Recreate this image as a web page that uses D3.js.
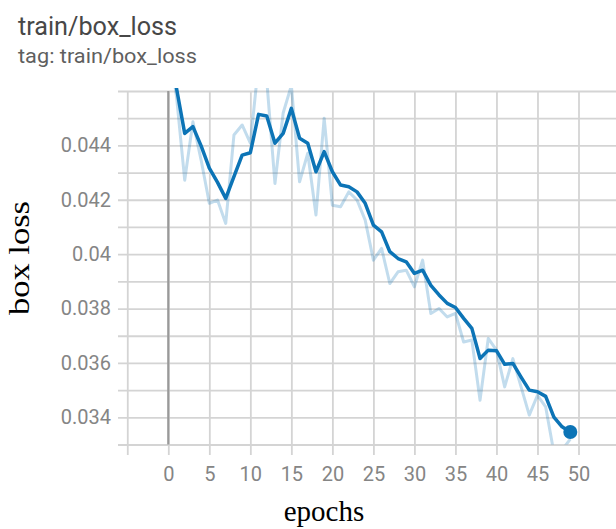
<!DOCTYPE html>
<html>
<head>
<meta charset="utf-8">
<script src="https://cdn.jsdelivr.net/npm/d3@7"></script>
<style>
  html, body { margin: 0; padding: 0; background: #fff; }
  svg { display: block; }
</style>
</head>
<body>
<svg id="chart" width="616" height="529"></svg>
<script>
// ---- data ----
const epochs = [0,1,2,3,4,5,6,7,8,9,10,11,12,13,14,15,16,17,18,19,20,21,22,23,24,25,26,27,28,29,30,31,32,33,34,35,36,37,38,39,40,41,42,43,44,45,46,47,48,49];
const smoothedLoss = [0.0478,0.0461,0.04444,0.04469,0.04398,0.04316,0.04264,0.04205,0.04285,0.04364,
  0.04373,0.04514,0.04508,0.04408,0.04444,0.04536,0.04426,0.04408,0.04303,0.04377,
  0.04303,0.04254,0.04248,0.04229,0.04187,0.04107,0.04082,0.04009,0.03984,0.03972,
  0.03929,0.03941,0.03885,0.03850,0.03819,0.03804,0.03764,0.03727,0.03616,0.03647,
  0.03645,0.03595,0.03598,0.03548,0.03500,0.03494,0.03477,0.03401,0.03365,0.03346];
const rawLoss = [0.0478,0.0458,0.04272,0.04487,0.04346,0.04187,0.04199,0.04113,0.04438,0.04475,
  0.04408,0.0470,0.0464,0.04260,0.04519,0.0462,0.04266,0.04371,0.04144,0.04500,
  0.04180,0.04174,0.04229,0.04199,0.04125,0.03978,0.04021,0.03892,0.03935,0.03941,
  0.03880,0.03978,0.03782,0.03800,0.03769,0.03782,0.03677,0.03684,0.03463,0.03690,
  0.03647,0.03512,0.03616,0.03512,0.03408,0.03481,0.03438,0.0327,0.0328,0.0332];
const xTickValues = [0,5,10,15,20,25,30,35,40,45,50];
const xTickLabels = ["0","5","10","15","20","25","30","35","40","45","50"];
const xGridValues = [-5,0,5,10,15,20,25,30,35,40,45,50];
const yTickValues = [0.034,0.036,0.038,0.040,0.042,0.044];
const yTickLabels = ["0.034","0.036","0.038","0.04","0.042","0.044"];
const yGridValues = [0.033,0.034,0.035,0.036,0.037,0.038,0.039,0.040,0.041,0.042,0.043,0.044,0.045,0.046];
const titleText = "train/box_loss";
const subtitleText = "tag: train/box_loss";
const yTitle = "box loss";
const xTitle = "epochs";

// ---- layout ----
const W = 616, H = 529;
const gridLeft = 118, gridRight = 616, gridTop = 91, gridBottom = 444.5, tickBottom = 455;
const lineColor = "#0c74b6";

const svg = d3.select("#chart");
svg.append("rect").attr("width", W).attr("height", H).attr("fill", "#fff");

const x = d3.scaleLinear().domain([0, 50]).range([168.3, 578.5]);
const y = d3.scaleLinear().domain([0.033, 0.046]).range([gridBottom, gridTop]);

// titles
svg.append("text").attr("x", 18).attr("y", 35)
  .attr("font-family", "Roboto, sans-serif").attr("font-size", 25)
  .attr("textLength", 159).attr("lengthAdjust", "spacingAndGlyphs")
  .attr("fill", "#474747").text(titleText);
svg.append("text").attr("x", 18).attr("y", 63)
  .attr("font-family", "Roboto, sans-serif").attr("font-size", 20.5)
  .attr("textLength", 179).attr("lengthAdjust", "spacingAndGlyphs")
  .attr("fill", "#5f5f5f").text(subtitleText);

// horizontal grid
const yGrid = svg.append("g").attr("transform", `translate(${gridLeft},0)`)
  .call(d3.axisLeft(y).tickValues(yGridValues).tickSize(-(gridRight - gridLeft)).tickFormat(""));
yGrid.select(".domain").remove();
yGrid.selectAll(".tick line").attr("stroke", "#d4d4d4").attr("stroke-width", 1.8);

// vertical grid
const xGrid = svg.append("g").attr("transform", `translate(0,${tickBottom})`)
  .call(d3.axisBottom(x).tickValues(xGridValues).tickSize(-(tickBottom - gridTop)).tickFormat(""));
xGrid.select(".domain").remove();
xGrid.selectAll(".tick line").attr("stroke", "#d4d4d4").attr("stroke-width", 1.8);

// zero line
svg.append("line").attr("x1", x(0)).attr("x2", x(0))
  .attr("y1", gridTop).attr("y2", gridBottom)
  .attr("stroke", "#999").attr("stroke-width", 2.2);

// y tick labels
const yAx = svg.append("g").attr("transform", `translate(${gridLeft},0)`)
  .call(d3.axisLeft(y).tickValues(yTickValues).tickSize(0).tickPadding(7)
    .tickFormat((d, i) => yTickLabels[i]));
yAx.select(".domain").remove();
yAx.selectAll("text").attr("font-family", "Roboto, sans-serif").attr("font-size", 20).attr("fill", "#858585");

// x tick labels
const xAx = svg.append("g").attr("transform", `translate(0,${tickBottom})`)
  .call(d3.axisBottom(x).tickValues(xTickValues).tickSize(0).tickPadding(12)
    .tickFormat((d, i) => xTickLabels[i]));
xAx.select(".domain").remove();
xAx.selectAll("text").attr("font-family", "Roboto, sans-serif").attr("font-size", 20).attr("fill", "#858585");

// clip
svg.append("defs").append("clipPath").attr("id", "plotclip")
  .append("rect").attr("x", gridLeft).attr("y", gridTop - 3)
  .attr("width", gridRight - gridLeft).attr("height", gridBottom - gridTop + 3);

const plot = svg.append("g").attr("clip-path", "url(#plotclip)");
const rawData = epochs.map((e, i) => [e, rawLoss[i]]);
const smData = epochs.map((e, i) => [e, smoothedLoss[i]]);
const line = d3.line().x(d => x(d[0])).y(d => y(d[1]));

plot.append("path").datum(rawData).attr("d", line)
  .attr("fill", "none").attr("stroke", lineColor).attr("stroke-opacity", 0.25)
  .attr("stroke-width", 3).attr("stroke-linejoin", "round");
plot.append("path").datum(smData).attr("d", line)
  .attr("fill", "none").attr("stroke", lineColor)
  .attr("stroke-width", 3.5).attr("stroke-linejoin", "round");

const last = smData[smData.length - 1];
svg.append("circle").attr("cx", x(last[0])).attr("cy", y(last[1])).attr("r", 7)
  .attr("fill", lineColor);

// axis titles
svg.append("text").attr("transform", `translate(29,258) rotate(-90)`)
  .attr("text-anchor", "middle")
  .attr("font-family", "'Liberation Serif', 'Times New Roman', serif").attr("font-size", 29)
  .attr("textLength", 114).attr("lengthAdjust", "spacingAndGlyphs")
  .attr("fill", "#000").text(yTitle);
svg.append("text").attr("x", 324).attr("y", 521)
  .attr("text-anchor", "middle")
  .attr("font-family", "'Liberation Serif', 'Times New Roman', serif").attr("font-size", 29)
  .attr("fill", "#000").text(xTitle);
</script>
</body>
</html>
